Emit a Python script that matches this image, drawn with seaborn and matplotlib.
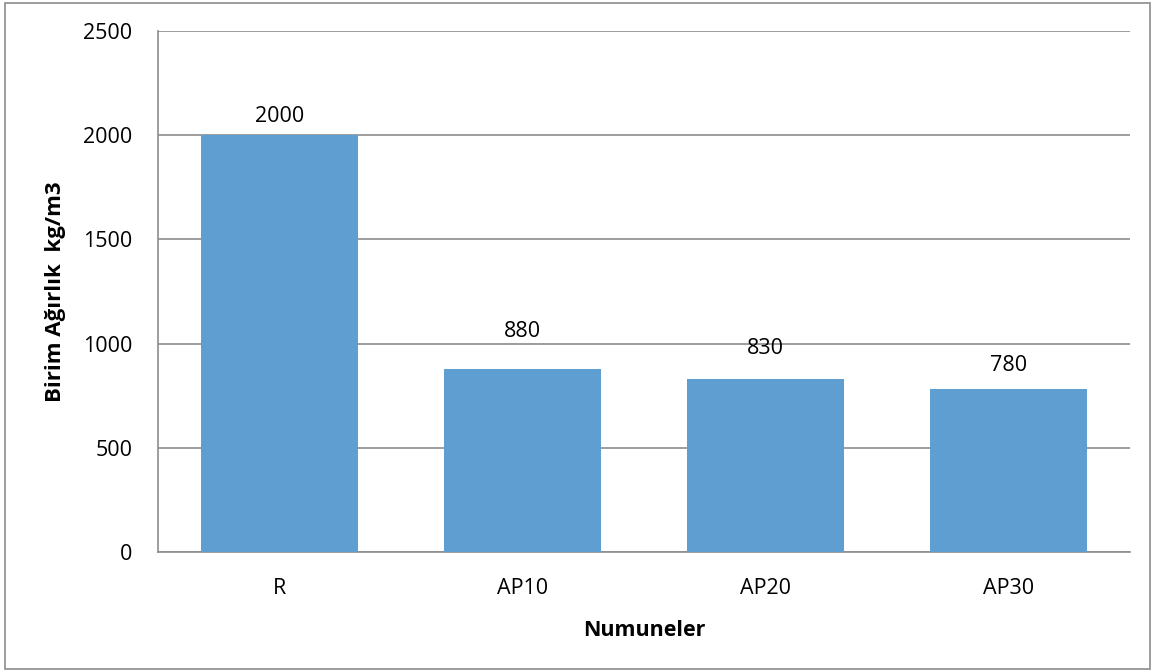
import matplotlib
matplotlib.use("Agg")
import matplotlib.pyplot as plt
import seaborn as sns
import pandas as pd
from matplotlib.patches import Rectangle

categories = ["R", "AP10", "AP20", "AP30"]
values = [2000, 880, 830, 780]
yticks = [0, 500, 1000, 1500, 2000, 2500]
# vertical gap (data units) between each bar top and its value label
label_gaps = [40, 130, 95, 65]

sns.set_theme(style="white")
plt.rcParams['font.family'] = ['Open Sans', 'DejaVu Sans']
plt.rcParams['text.color'] = 'black'
plt.rcParams['axes.labelcolor'] = 'black'

df = pd.DataFrame({"Numuneler": categories, "Birim": values})

fig = plt.figure(figsize=(11.53, 6.72), dpi=100)
ax = fig.add_axes([158/1153, 1-552/672, (1130-158)/1153, (552-31)/672])

sns.barplot(data=df, x="Numuneler", y="Birim", color="#5F9ED1", saturation=1,
            width=0.646, ax=ax, zorder=3, linewidth=0, edgecolor="none")

fs = 15.5
ax.set_ylim(0, 2500)
ax.set_yticks(yticks)
ax.set_yticklabels([str(t) for t in yticks], fontsize=fs, color="black")
ax.tick_params(axis='x', labelsize=fs, colors="black", pad=18.5, length=0)
ax.tick_params(axis='y', pad=18.5, length=0)
ax.set_xlim(-0.5, len(categories) - 0.5)

ax.grid(axis='y', color="#8C8C8C", linewidth=1.2, zorder=0)
ax.set_axisbelow(True)
for s in ["top", "right"]:
    ax.spines[s].set_visible(False)
for s in ["left", "bottom"]:
    ax.spines[s].set_color("#8C8C8C")
    ax.spines[s].set_linewidth(1.2)

for i, (v, g) in enumerate(zip(values, label_gaps)):
    ax.text(i, v + g, str(v), ha="center", va="bottom", fontsize=fs, color="black")

ax.set_xlabel("Numuneler", fontsize=fs, fontweight="bold", labelpad=15, color="black")
ax.set_ylabel("Birim Ağırlık  kg/m3", fontsize=16, fontweight="bold", labelpad=12, color="black")

fig.patches.append(Rectangle((5/1153, 1-669/672), 1145/1153, 666/672, transform=fig.transFigure,
                             fill=False, edgecolor="#8C8C8C", linewidth=1.2))

fig.savefig("out.png", dpi=100)
